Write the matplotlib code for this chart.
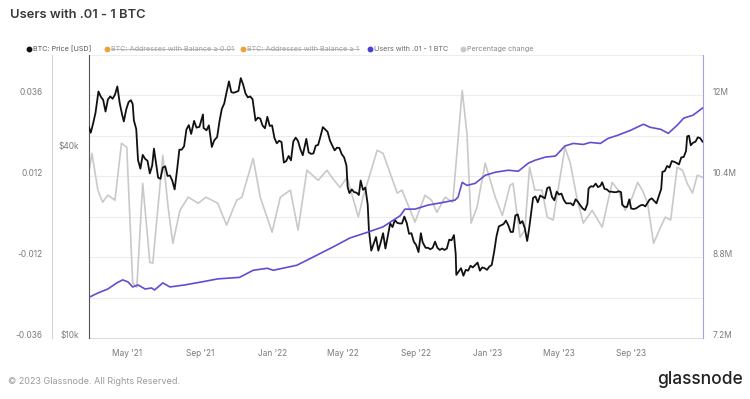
import matplotlib
matplotlib.use("Agg")
import matplotlib.pyplot as plt
import matplotlib.dates as mdates
from matplotlib.lines import Line2D
from matplotlib.ticker import NullLocator, FixedLocator
import numpy as np
import pandas as pd

plt.rcParams['font.family'] = ['Inter', 'DejaVu Sans']

# ---------------- data ----------------
price_dates = [
    "2021-02-25", "2021-02-28", "2021-03-04", "2021-03-08", "2021-03-13", "2021-03-17", "2021-03-21",
    "2021-03-25", "2021-03-29", "2021-04-02", "2021-04-06", "2021-04-10", "2021-04-14", "2021-04-18",
    "2021-04-22", "2021-04-25", "2021-04-29", "2021-05-03", "2021-05-07", "2021-05-10", "2021-05-12",
    "2021-05-16", "2021-05-19", "2021-05-23", "2021-05-27", "2021-05-31", "2021-06-04", "2021-06-08",
    "2021-06-12", "2021-06-15", "2021-06-19", "2021-06-22", "2021-06-26", "2021-06-30", "2021-07-04",
    "2021-07-08", "2021-07-12", "2021-07-16", "2021-07-20", "2021-07-24", "2021-07-28", "2021-08-01",
    "2021-08-05", "2021-08-09", "2021-08-13", "2021-08-17", "2021-08-22", "2021-08-26", "2021-08-31",
    "2021-09-06", "2021-09-07", "2021-09-12", "2021-09-16", "2021-09-21", "2021-09-25", "2021-09-30",
    "2021-10-04", "2021-10-08", "2021-10-12", "2021-10-16", "2021-10-20", "2021-10-24", "2021-10-28",
    "2021-11-01", "2021-11-05", "2021-11-09", "2021-11-13", "2021-11-17", "2021-11-21", "2021-11-25",
    "2021-11-29", "2021-12-04", "2021-12-08", "2021-12-12", "2021-12-16", "2021-12-20", "2021-12-24",
    "2021-12-28", "2022-01-01", "2022-01-05", "2022-01-09", "2022-01-13", "2022-01-17", "2022-01-21",
    "2022-01-25", "2022-01-29", "2022-02-02", "2022-02-06", "2022-02-10", "2022-02-14", "2022-02-18",
    "2022-02-22", "2022-02-28", "2022-03-04", "2022-03-08", "2022-03-12", "2022-03-16", "2022-03-20",
    "2022-03-24", "2022-03-28", "2022-04-01", "2022-04-05", "2022-04-09", "2022-04-13", "2022-04-17",
    "2022-04-21", "2022-04-25", "2022-04-29", "2022-05-03", "2022-05-07", "2022-05-09", "2022-05-12",
    "2022-05-16", "2022-05-20", "2022-05-24", "2022-05-28", "2022-05-31", "2022-06-04", "2022-06-08",
    "2022-06-12", "2022-06-14", "2022-06-18", "2022-06-22", "2022-06-26", "2022-06-30", "2022-07-04",
    "2022-07-08", "2022-07-12", "2022-07-16", "2022-07-20", "2022-07-24", "2022-07-28", "2022-08-01",
    "2022-08-05", "2022-08-09", "2022-08-13", "2022-08-17", "2022-08-21", "2022-08-25", "2022-08-29",
    "2022-09-02", "2022-09-06", "2022-09-10", "2022-09-13", "2022-09-18", "2022-09-22", "2022-09-26",
    "2022-09-30", "2022-10-04", "2022-10-08", "2022-10-12", "2022-10-16", "2022-10-20", "2022-10-24",
    "2022-10-28", "2022-11-01", "2022-11-05", "2022-11-08", "2022-11-09", "2022-11-13", "2022-11-17",
    "2022-11-21", "2022-11-25", "2022-11-29", "2022-12-03", "2022-12-07", "2022-12-11", "2022-12-15",
    "2022-12-19", "2022-12-23", "2022-12-27", "2022-12-31", "2023-01-04", "2023-01-08", "2023-01-12",
    "2023-01-16", "2023-01-20", "2023-01-24", "2023-01-28", "2023-02-01", "2023-02-05", "2023-02-09",
    "2023-02-13", "2023-02-17", "2023-02-21", "2023-02-25", "2023-03-01", "2023-03-05", "2023-03-09",
    "2023-03-12", "2023-03-15", "2023-03-19", "2023-03-23", "2023-03-27", "2023-03-31", "2023-04-04",
    "2023-04-08", "2023-04-12", "2023-04-16", "2023-04-20", "2023-04-24", "2023-04-28", "2023-05-02",
    "2023-05-06", "2023-05-10", "2023-05-14", "2023-05-18", "2023-05-22", "2023-05-26", "2023-05-30",
    "2023-06-03", "2023-06-07", "2023-06-11", "2023-06-15", "2023-06-19", "2023-06-21", "2023-06-25",
    "2023-06-29", "2023-07-03", "2023-07-07", "2023-07-11", "2023-07-14", "2023-07-18", "2023-07-22",
    "2023-07-26", "2023-07-30", "2023-08-03", "2023-08-07", "2023-08-11", "2023-08-15", "2023-08-17",
    "2023-08-21", "2023-08-25", "2023-08-29", "2023-09-01", "2023-09-05", "2023-09-09", "2023-09-13",
    "2023-09-17", "2023-09-21", "2023-09-25", "2023-09-29", "2023-10-02", "2023-10-06", "2023-10-10",
    "2023-10-14", "2023-10-18", "2023-10-22", "2023-10-24", "2023-10-28", "2023-11-01", "2023-11-05",
    "2023-11-09", "2023-11-13", "2023-11-17", "2023-11-21", "2023-11-25", "2023-11-29", "2023-12-03",
    "2023-12-05", "2023-12-08", "2023-12-11", "2023-12-15", "2023-12-19", "2023-12-23", "2023-12-27",
    "2023-12-31",
]
price_values = [
    47000, 45200, 48400, 52300, 61200, 58900, 57500, 52800, 57700, 59000, 58000, 59800, 63500, 56200,
    51700, 49100, 53600, 56600, 57400, 55800, 49500, 46400, 37000, 34700, 38400, 37300, 36800, 33500,
    35500, 40200, 35600, 32500, 32200, 35000, 35300, 32900, 33000, 31800, 29800, 34200, 39900, 39900,
    40900, 46300, 47800, 44800, 49300, 46900, 47200, 51700, 46800, 46000, 47700, 40700, 42700, 43800,
    49200, 53900, 56000, 60900, 65900, 60900, 60600, 61000, 61400, 67500, 64400, 60300, 58600, 59000,
    57800, 49400, 50500, 50100, 47600, 46700, 50800, 47500, 47700, 43500, 41800, 42600, 42200, 36300,
    36700, 38100, 36900, 42400, 43600, 42500, 40000, 38300, 43200, 39100, 38700, 38800, 41100, 41300,
    44000, 47100, 46300, 45500, 42700, 41100, 39700, 40500, 40400, 38600, 37700, 35500, 30300, 29000,
    29800, 29200, 29100, 28600, 31800, 29700, 30200, 26600, 22100, 19000, 20000, 21000, 19000, 20200,
    21600, 19300, 21200, 23200, 22600, 23800, 23300, 23200, 23200, 24400, 23300, 21500, 21600, 20300,
    19800, 18800, 21600, 20200, 19400, 19400, 19200, 19400, 20300, 19400, 19100, 19300, 19100, 19300,
    20600, 20500, 21300, 18500, 15900, 16300, 16700, 15800, 16500, 16400, 17000, 16800, 17100, 17400,
    16400, 16800, 16700, 16500, 16900, 17100, 18800, 21100, 22700, 22900, 23100, 23700, 22900, 21800,
    21800, 24600, 24800, 23200, 23600, 22400, 20400, 22100, 24400, 28000, 28300, 27100, 28500, 28200,
    27900, 30100, 30300, 28200, 27500, 29300, 28700, 28900, 27600, 26900, 26900, 26900, 26500, 27700,
    27200, 26500, 25900, 25600, 26800, 30000, 30500, 30400, 31100, 30300, 30600, 31400, 29900, 29800,
    29300, 29300, 29200, 29200, 29400, 29200, 26600, 26200, 26200, 27700, 25900, 25800, 25900, 26200,
    26500, 26600, 26300, 27000, 27600, 27900, 27400, 26900, 28400, 29900, 33900, 34100, 35400, 35000,
    36700, 36500, 36200, 35800, 37700, 37800, 39500, 44000, 44200, 41200, 42000, 42300, 43700, 43400,
    42300,
]

users_dates = [
    "2021-02-26", "2021-03-12", "2021-03-29", "2021-04-13", "2021-04-23", "2021-05-02", "2021-05-10",
    "2021-05-19", "2021-05-31", "2021-06-11", "2021-06-16", "2021-06-30", "2021-07-12", "2021-08-06",
    "2021-09-04", "2021-10-01", "2021-11-07", "2021-11-30", "2021-12-12", "2021-12-24", "2022-01-03",
    "2022-02-12", "2022-03-18", "2022-04-14", "2022-05-13", "2022-06-11", "2022-07-08", "2022-08-06",
    "2022-08-14", "2022-08-31", "2022-09-22", "2022-10-21", "2022-11-07", "2022-11-12", "2022-11-19",
    "2022-11-27", "2022-12-11", "2022-12-28", "2023-01-14", "2023-02-05", "2023-02-22", "2023-03-11",
    "2023-03-23", "2023-04-09", "2023-04-26", "2023-05-12", "2023-05-26", "2023-06-12", "2023-06-24",
    "2023-07-11", "2023-07-24", "2023-08-09", "2023-08-31", "2023-09-22", "2023-10-03", "2023-10-21",
    "2023-11-03", "2023-11-18", "2023-11-29", "2023-12-15", "2023-12-31",
]
users_values = [  # millions
    8.01, 8.09, 8.17, 8.29, 8.35, 8.31, 8.21, 8.25, 8.17, 8.19, 8.15, 8.29, 8.21, 8.25,
    8.31, 8.37, 8.40, 8.54, 8.56, 8.58, 8.54, 8.64, 8.84, 9.00, 9.18, 9.29, 9.40, 9.62,
    9.75, 9.75, 9.83, 9.89, 9.93, 9.99, 10.28, 10.22, 10.26, 10.42, 10.48, 10.52, 10.50, 10.66,
    10.72, 10.78, 10.80, 11.00, 11.05, 11.03, 11.07, 11.05, 11.15, 11.21, 11.31, 11.43, 11.37, 11.33,
    11.25, 11.41, 11.55, 11.61, 11.75,
]

pct_dates = [
    "2021-02-26", "2021-03-02", "2021-03-12", "2021-03-20", "2021-03-29", "2021-04-10", "2021-04-21",
    "2021-04-30", "2021-05-10", "2021-05-17", "2021-05-27", "2021-06-08", "2021-06-13", "2021-06-30",
    "2021-07-09", "2021-07-17", "2021-07-29", "2021-08-12", "2021-08-29", "2021-09-11", "2021-10-01",
    "2021-10-16", "2021-11-02", "2021-11-11", "2021-11-30", "2021-12-12", "2022-01-01", "2022-01-15",
    "2022-02-01", "2022-02-14", "2022-03-01", "2022-03-20", "2022-04-04", "2022-04-12", "2022-04-26",
    "2022-05-08", "2022-05-27", "2022-06-04", "2022-06-28", "2022-07-08", "2022-08-01", "2022-08-09",
    "2022-08-31", "2022-09-17", "2022-09-28", "2022-10-07", "2022-10-21", "2022-11-03", "2022-11-19",
    "2022-11-27", "2022-12-04", "2022-12-14", "2022-12-28", "2023-01-14", "2023-01-26", "2023-02-08",
    "2023-02-13", "2023-02-25", "2023-03-05", "2023-03-13", "2023-03-22", "2023-04-03", "2023-04-12",
    "2023-04-22", "2023-05-12", "2023-05-21", "2023-06-01", "2023-06-12", "2023-06-27", "2023-07-14",
    "2023-07-31", "2023-08-10", "2023-08-22", "2023-09-03", "2023-09-12", "2023-09-20", "2023-09-29",
    "2023-10-09", "2023-10-21", "2023-10-29", "2023-11-07", "2023-11-18", "2023-11-27", "2023-12-05",
    "2023-12-14", "2023-12-22", "2023-12-31",
]
pct_values = [
    0.0144, 0.0188, 0.0079, 0.0043, 0.0064, 0.0049, 0.0218, 0.0206, -0.0197, -0.0209, 0.0099, -0.0135,
    -0.0138, 0.0182, 0.0028, -0.0079, 0.0019, 0.0058, 0.0040, 0.0058, 0.0040, -0.0025, 0.0049, 0.0058,
    0.0173, 0.0058, -0.0046, 0.0058, 0.0079, -0.0040, 0.0138, 0.0108, 0.0138, 0.0117, 0.0087, 0.0117,
    -0.0001, 0.0058, 0.0197, 0.0188, 0.0070, 0.0079, -0.0016, 0.0064, 0.0049, 0.0013, 0.0058, 0.0043,
    0.0375, 0.0247, -0.0019, 0.0028, 0.0159, 0.0058, 0.0004, 0.0093, 0.0099, -0.0061, -0.0040, 0.0147,
    0.0079, 0.0079, -0.0001, -0.0010, 0.0206, 0.0159, 0.0058, -0.0019, 0.0019, -0.0031, 0.0102, 0.0079,
    0.0019, 0.0058, 0.0102, 0.0079, 0.0040, -0.0079, -0.0031, -0.0001, -0.0010, 0.0147, 0.0138, 0.0099,
    0.0070, 0.0123, 0.0117,
]

x_start, x_end = "2021-02-25", "2023-12-31 18:00"
pct_ticks = [-0.036, -0.012, 0.012, 0.036]
pct_labels = ["-0.036", "-0.012", "0.012", "0.036"]
price_ticks = [10000, 40000]
price_labels = ["$10k", "$40k"]
users_ticks = [7.2, 8.8, 10.4, 12.0]
users_labels = ["7.2M", "8.8M", "10.4M", "12M"]

# ---------------- figure ----------------
W, H = 750, 399
fig = plt.figure(figsize=(W / 100, H / 100), dpi=100)
fig.patch.set_facecolor("white")
L, R, T, B = 89, 703, 55, 338
ax = fig.add_axes([L / W, 1 - B / H, (R - L) / W, (B - T) / H])

tick_color = "#7a7a7a"
tick_fs = 6

# percentage axis (base)
ax.set_ylim(-0.036, 0.048)
for v in np.arange(-0.024, 0.0485, 0.012):
    ax.axhline(v, color="#ededed", lw=0.8, zorder=0)
ax.plot(pd.to_datetime(pct_dates), pct_values, color="#c9c9c9", lw=1.2, zorder=2)
ax.set_yticks(pct_ticks)
ax.set_yticklabels(pct_labels)
ax.spines["left"].set_position(("outward", 37 * 0.72))
ax.spines["left"].set_color("#d6d6d6")
ax.spines["bottom"].set_color("#dcdcdc")
ax.spines["top"].set_visible(False)
ax.spines["right"].set_visible(False)
ax.tick_params(axis="y", length=0, pad=7, labelsize=tick_fs, labelcolor=tick_color)
ax.tick_params(axis="x", length=0, pad=8, labelsize=tick_fs, labelcolor=tick_color)
ax.set_xlim(pd.Timestamp(x_start), pd.Timestamp(x_end))
ax.xaxis.set_major_locator(mdates.MonthLocator(bymonth=[1, 5, 9]))
ax.xaxis.set_major_formatter(mdates.DateFormatter("%b '%y"))

# price axis
axp = ax.twinx()
axp.set_yscale("log")
axp.set_ylim(10000, 80000)
axp.plot(pd.to_datetime(price_dates), price_values, color="#111111", lw=1.3, zorder=3)
axp.yaxis.set_major_locator(FixedLocator(price_ticks))
axp.yaxis.set_minor_locator(NullLocator())
axp.set_yticklabels(price_labels)
axp.yaxis.tick_left()
for s in ["top", "right", "bottom"]:
    axp.spines[s].set_visible(False)
axp.spines["left"].set_visible(True)
axp.spines["left"].set_color("#555555")
axp.tick_params(axis="y", length=0, pad=7, labelsize=tick_fs, labelcolor=tick_color)

# users axis
axu = ax.twinx()
axu.set_ylim(7.2, 12.8)
axu.plot(pd.to_datetime(users_dates), users_values, color="#5e4fd1", lw=1.2, zorder=3)
axu.set_yticks(users_ticks)
axu.set_yticklabels(users_labels)
for s in ["top", "left", "bottom"]:
    axu.spines[s].set_visible(False)
axu.spines["right"].set_color("#a99ee8")
axu.tick_params(axis="y", length=0, pad=7, labelsize=tick_fs, labelcolor=tick_color)
axu.set_xlim(pd.Timestamp(x_start), pd.Timestamp(x_end))

for a in (ax, axp, axu):
    for t in a.yaxis.get_major_ticks():
        t.label1.set_va("baseline")
        t.label2.set_va("baseline")

# ---------------- texts ----------------
fig.text(10 / W, 1 - 15 / H, "Users with .01 - 1 BTC", fontsize=9.3, color="#3a3a3a",
         fontweight="semibold", va="center", ha="left")

leg_y = 1 - 49 / H
legend_items = [
    (29, "#111111", "BTC: Price [USD]", "#555555", False),
    (107, "#f0a23a", "BTC: Addresses with Balance \u2265 0.01", "#a0a0a0", True),
    (243, "#f0a23a", "BTC: Addresses with Balance \u2265 1", "#a0a0a0", True),
    (370, "#4b3fd0", "Users with .01 - 1 BTC", "#666666", False),
    (463, "#c9c9c9", "Percentage change", "#888888", False),
]
strike_texts = []
for xd, dc, txt, tc, strike in legend_items:
    fig.add_artist(Line2D([xd / W], [leg_y], marker="o", ms=3.2, color=dc, lw=0,
                          transform=fig.transFigure))
    t = fig.text((xd + 4) / W, leg_y, txt, fontsize=5.2, color=tc, va="center", ha="left")
    if strike:
        strike_texts.append(t)

fig.text(8 / W, 1 - 381 / H, "\u00a9 2023 Glassnode. All Rights Reserved.", fontsize=6.5,
         color="#9a9a9a", va="center", ha="left")
fig.text(743 / W, 1 - 380 / H, "glassnode", fontsize=12.5, color="#222222",
         va="center", ha="right", fontweight="medium")

fig.canvas.draw()
r = fig.canvas.get_renderer()
for t in strike_texts:
    bb = t.get_window_extent(renderer=r)
    ym = (bb.y0 + bb.y1) / 2
    fig.add_artist(Line2D([bb.x0 / W, bb.x1 / W], [ym / H, ym / H], color="#a0a0a0", lw=0.5,
                          transform=fig.transFigure))

fig.savefig("out.png", dpi=100, facecolor="white")
